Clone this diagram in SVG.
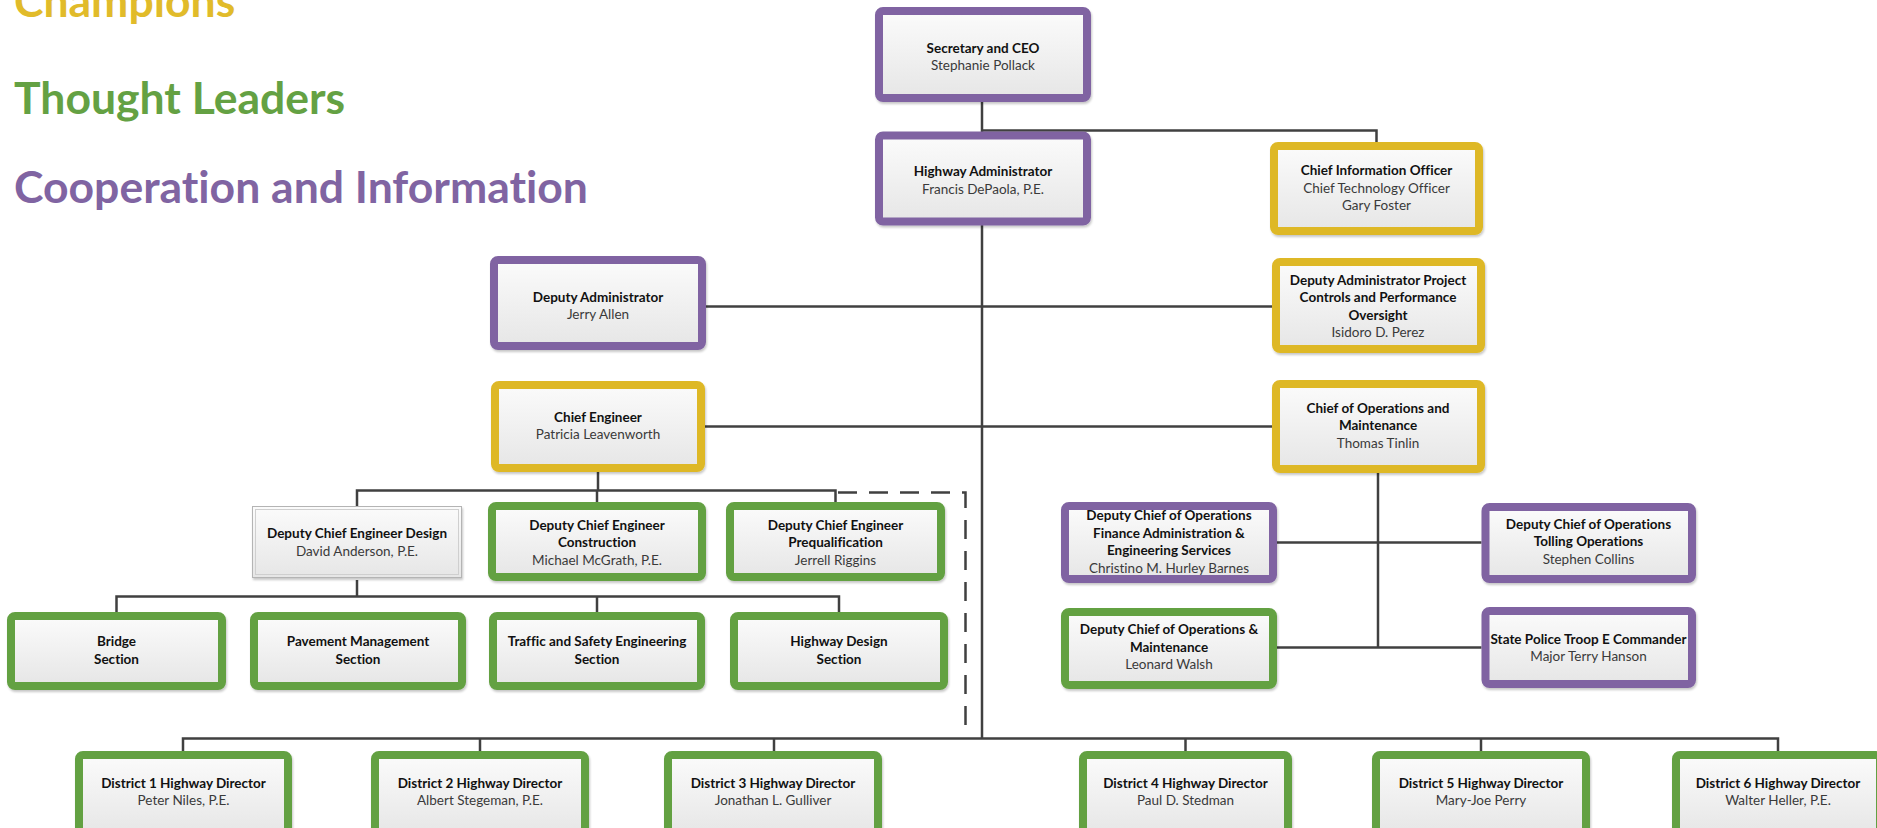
<svg xmlns="http://www.w3.org/2000/svg" width="1877" height="828" viewBox="0 0 1877 828">
  <defs>
    <linearGradient id="boxFill" x1="0" y1="0" x2="0" y2="1">
      <stop offset="0" stop-color="#fbfbfb"/>
      <stop offset="1" stop-color="#e6e6e6"/>
    </linearGradient>
    <filter id="shadow" x="-5%" y="-5%" width="112%" height="120%">
      <feDropShadow dx="1" dy="2" stdDeviation="1.2" flood-color="#000" flood-opacity="0.22"/>
    </filter>
  </defs>
  <style>
    .legend { font-family: Lato, "Open Sans", sans-serif; font-weight: 700; font-size: 44.5px; font-variant-ligatures: none; }
    .box { fill: url(#boxFill); stroke-width: 8; filter: url(#shadow); }
    .purple { stroke: #8064A2; }
    .gold { stroke: #DEB826; }
    .green { stroke: #64A143; }
    .plain { fill: url(#boxFill); stroke: #b4b4b4; stroke-width: 1; filter: url(#shadow); }
    .plain-inner { fill: none; stroke: #cfcfcf; stroke-width: 1; }
    .t { font-family: Lato, "Open Sans", sans-serif; font-size: 13.5px; text-anchor: middle; font-variant-ligatures: none; }
    .b { font-weight: 700; fill: #111; }
    .r { font-weight: 400; fill: #3a3a3a; }
    .conn { fill: none; stroke: #404040; stroke-width: 2.5; }
    .dash { fill: none; stroke: #404040; stroke-width: 2.5; stroke-dasharray: 19 12; }
  </style>

  <!-- legend -->
  <g id="legend">
    <text class="legend" x="14" y="17" fill="#E1BB2A">Champions</text>
    <text class="legend" x="14" y="114" fill="#64A143">Thought Leaders</text>
    <text class="legend" x="14" y="203" fill="#8064A2">Cooperation and Information</text>
  </g>

  <!-- connectors -->
  <g id="connectors">
    <path class="conn" d="M982 102 V738.5"/>
    <path class="conn" d="M982 130.5 H1376.5 V142"/>
    <path class="conn" d="M706 306.5 H1272"/>
    <path class="conn" d="M705 426.5 H1272"/>
    <path class="conn" d="M598 472 V490.5"/>
    <path class="conn" d="M357 506 V490.5 H835.5 V502"/>
    <path class="conn" d="M597 490.5 V502"/>
    <path class="dash" d="M838 492.5 H965.5 V732"/>
    <path class="conn" d="M357 580 V596.5"/>
    <path class="conn" d="M116.5 612 V596.5 H839 V612"/>
    <path class="conn" d="M597 596.5 V612"/>
    <path class="conn" d="M1378 473 V647.5"/>
    <path class="conn" d="M1277 542.5 H1481.5"/>
    <path class="conn" d="M1277 647.5 H1481.5"/>
    <path class="conn" d="M183 751 V738.5 H1778 V751"/>
    <path class="conn" d="M480 738.5 V751"/>
    <path class="conn" d="M774 738.5 V751"/>
    <path class="conn" d="M1185.5 738.5 V751"/>
    <path class="conn" d="M1481 738.5 V751"/>
  </g>

  <!-- top level -->
  <g id="secretary">
    <rect class="box purple" x="879" y="11" width="208" height="87" rx="4"/>
    <text class="t b" x="983" y="52.5">Secretary and CEO</text>
    <text class="t r" x="983" y="70">Stephanie Pollack</text>
  </g>
  <g id="highway-administrator">
    <rect class="box purple" x="879" y="135.5" width="208" height="86" rx="4"/>
    <text class="t b" x="983" y="176">Highway Administrator</text>
    <text class="t r" x="983" y="193.5">Francis DePaola, P.E.</text>
  </g>
  <g id="cio">
    <rect class="box gold" x="1274" y="146" width="205" height="85" rx="4"/>
    <text class="t b" x="1376.5" y="175">Chief Information Officer</text>
    <text class="t r" x="1376.5" y="192.5">Chief Technology Officer</text>
    <text class="t r" x="1376.5" y="210">Gary Foster</text>
  </g>

  <!-- administration -->
  <g id="deputy-administrator">
    <rect class="box purple" x="494" y="260" width="208" height="86" rx="4"/>
    <text class="t b" x="598" y="301.5">Deputy Administrator</text>
    <text class="t r" x="598" y="319">Jerry Allen</text>
  </g>
  <g id="deputy-administrator-project">
    <rect class="box gold" x="1276" y="262" width="205" height="87" rx="4"/>
    <text class="t b" x="1378" y="284.5">Deputy Administrator Project</text>
    <text class="t b" x="1378" y="302">Controls and Performance</text>
    <text class="t b" x="1378" y="319.5">Oversight</text>
    <text class="t r" x="1378" y="337">Isidoro D. Perez</text>
  </g>
  <g id="chief-engineer">
    <rect class="box gold" x="495" y="385" width="206" height="83" rx="4"/>
    <text class="t b" x="598" y="421.5">Chief Engineer</text>
    <text class="t r" x="598" y="439">Patricia Leavenworth</text>
  </g>
  <g id="chief-operations">
    <rect class="box gold" x="1276" y="384" width="205" height="85" rx="4"/>
    <text class="t b" x="1378" y="412.5">Chief of Operations and</text>
    <text class="t b" x="1378" y="430">Maintenance</text>
    <text class="t r" x="1378" y="447.5">Thomas Tinlin</text>
  </g>

  <!-- engineering deputies -->
  <g id="deputy-chief-design">
    <rect class="plain" x="252.5" y="506.5" width="209" height="71"/>
    <rect class="plain-inner" x="255.5" y="509.5" width="203" height="65"/>
    <text class="t b" x="357" y="538">Deputy Chief Engineer Design</text>
    <text class="t r" x="357" y="555.5">David Anderson, P.E.</text>
  </g>
  <g id="deputy-chief-construction">
    <rect class="box green" x="492" y="506" width="210" height="71" rx="4"/>
    <text class="t b" x="597" y="529.5">Deputy Chief Engineer</text>
    <text class="t b" x="597" y="547">Construction</text>
    <text class="t r" x="597" y="564.5">Michael McGrath, P.E.</text>
  </g>
  <g id="deputy-chief-prequalification">
    <rect class="box green" x="730" y="506" width="211" height="71" rx="4"/>
    <text class="t b" x="835.5" y="529.5">Deputy Chief Engineer</text>
    <text class="t b" x="835.5" y="547">Prequalification</text>
    <text class="t r" x="835.5" y="564.5">Jerrell Riggins</text>
  </g>

  <!-- design sections -->
  <g id="bridge-section">
    <rect class="box green" x="11" y="616" width="211" height="70" rx="4"/>
    <text class="t b" x="116.5" y="646">Bridge</text>
    <text class="t b" x="116.5" y="663.5">Section</text>
  </g>
  <g id="pavement-section">
    <rect class="box green" x="254" y="616" width="208" height="70" rx="4"/>
    <text class="t b" x="358" y="646">Pavement Management</text>
    <text class="t b" x="358" y="663.5">Section</text>
  </g>
  <g id="traffic-section">
    <rect class="box green" x="493" y="616" width="208" height="70" rx="4"/>
    <text class="t b" x="597" y="646">Traffic and Safety Engineering</text>
    <text class="t b" x="597" y="663.5">Section</text>
  </g>
  <g id="highway-design-section">
    <rect class="box green" x="734" y="616" width="210" height="70" rx="4"/>
    <text class="t b" x="839" y="646">Highway Design</text>
    <text class="t b" x="839" y="663.5">Section</text>
  </g>

  <!-- operations deputies -->
  <g id="deputy-ops-finance">
    <rect class="box purple" x="1065" y="506" width="208" height="73" rx="4"/>
    <text class="t b" x="1169" y="520">Deputy Chief of Operations</text>
    <text class="t b" x="1169" y="537.5">Finance Administration &amp;</text>
    <text class="t b" x="1169" y="555">Engineering Services</text>
    <text class="t r" x="1169" y="572.5">Christino M. Hurley Barnes</text>
  </g>
  <g id="deputy-ops-tolling">
    <rect class="box purple" x="1485.5" y="507" width="206.5" height="72" rx="4"/>
    <text class="t b" x="1588.5" y="528.5">Deputy Chief of Operations</text>
    <text class="t b" x="1588.5" y="546">Tolling Operations</text>
    <text class="t r" x="1588.5" y="563.5">Stephen Collins</text>
  </g>
  <g id="deputy-ops-maintenance">
    <rect class="box green" x="1065" y="612" width="208" height="73" rx="4"/>
    <text class="t b" x="1169" y="634">Deputy Chief of Operations &amp;</text>
    <text class="t b" x="1169" y="651.5">Maintenance</text>
    <text class="t r" x="1169" y="669">Leonard Walsh</text>
  </g>
  <g id="state-police">
    <rect class="box purple" x="1485.5" y="611" width="206.5" height="73" rx="4"/>
    <text class="t b" x="1588.5" y="643.5">State Police Troop E Commander</text>
    <text class="t r" x="1588.5" y="660.5">Major Terry Hanson</text>
  </g>

  <!-- districts -->
  <g id="district-1">
    <rect class="box green" x="79" y="755" width="209" height="80" rx="4"/>
    <text class="t b" x="183.5" y="787.5">District 1 Highway Director</text>
    <text class="t r" x="183.5" y="805">Peter Niles, P.E.</text>
  </g>
  <g id="district-2">
    <rect class="box green" x="375" y="755" width="210" height="80" rx="4"/>
    <text class="t b" x="480" y="787.5">District 2 Highway Director</text>
    <text class="t r" x="480" y="805">Albert Stegeman, P.E.</text>
  </g>
  <g id="district-3">
    <rect class="box green" x="668" y="755" width="210" height="80" rx="4"/>
    <text class="t b" x="773" y="787.5">District 3 Highway Director</text>
    <text class="t r" x="773" y="805">Jonathan L. Gulliver</text>
  </g>
  <g id="district-4">
    <rect class="box green" x="1083" y="755" width="205" height="80" rx="4"/>
    <text class="t b" x="1185.5" y="787.5">District 4 Highway Director</text>
    <text class="t r" x="1185.5" y="805">Paul D. Stedman</text>
  </g>
  <g id="district-5">
    <rect class="box green" x="1376" y="755" width="210" height="80" rx="4"/>
    <text class="t b" x="1481" y="787.5">District 5 Highway Director</text>
    <text class="t r" x="1481" y="805">Mary-Joe Perry</text>
  </g>
  <g id="district-6">
    <rect class="box green" x="1676" y="755" width="204" height="80" rx="4"/>
    <text class="t b" x="1778" y="787.5">District 6 Highway Director</text>
    <text class="t r" x="1778" y="805">Walter Heller, P.E.</text>
  </g>
</svg>
